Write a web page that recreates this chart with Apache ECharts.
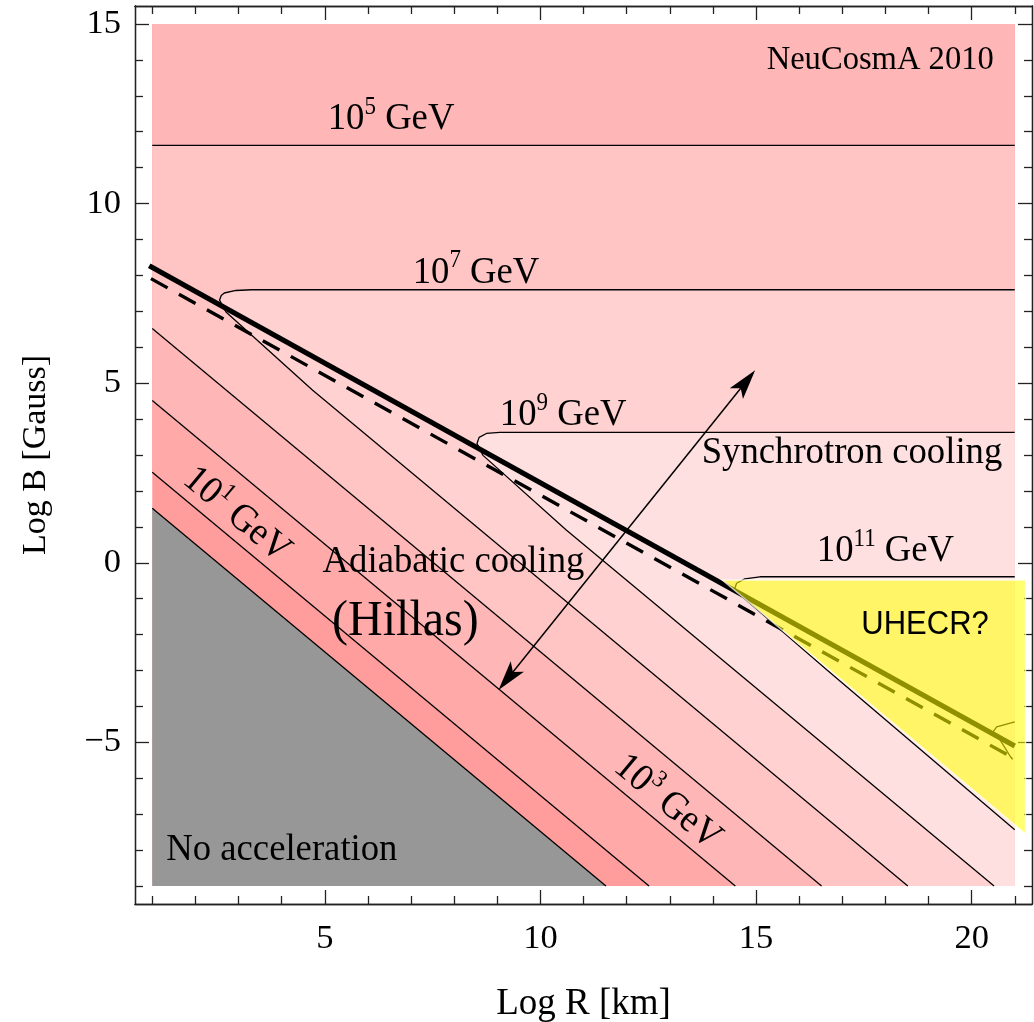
<!DOCTYPE html>
<html>
<head>
<meta charset="utf-8">
<script src="https://cdn.jsdelivr.net/npm/echarts@6/dist/echarts.min.js"></script>
<style>
  html, body { margin: 0; background: #fff; }
  #chart { width: 1034px; height: 1022px; }
</style>
</head>
<body>
<div id="chart"></div>
<script>
// maximal energy contours in the (log R, log B) plane
const grayEdge = [[1, 1.52], [11.52, -9]];
const e1Line = [[1, 2.52], [12.52, -9]];
const e3Line = [[1, 4.52], [14.52, -9]];
const e5Diag = [[1, 6.52], [16.52, -9]];
const e5Flat = [[1, 11.62], [21, 11.62]];
const e7Line = [[18.52, -9], [4.72, 4.8], [2.71, 6.98], [2.56, 7.31], [2.6, 7.44], [2.67, 7.51], [2.94, 7.58], [3.3, 7.6], [21, 7.6]];
const e9Line = [[20.52, -9], [10.6, 0.91], [8.67, 2.99], [8.53, 3.32], [8.58, 3.49], [8.75, 3.6], [9.06, 3.63], [21, 3.63]];
const e11Line = [[21, -7.43], [16.64, -2.98], [14.59, -0.85], [14.51, -0.71], [14.55, -0.57], [14.74, -0.45], [15.09, -0.39], [21, -0.39]];
const e13Line = [[21, -4.43], [20.58, -4.57], [20.5, -4.7], [20.66, -4.93], [20.9, -5.4], [20.95, -5.47]];
const coolingEdge = [[0.93, 8.27], [21, -5.1]];
const coolingEdgeDashed = [[0.97, 7.91], [21, -5.46]];
const uhecrZone = [[14.22, -0.48], [21.25, -0.48], [21.25, -7.55]];
const arrowTips = [[9.03, -3.54], [14.98, 5.36]];
const rangeR = [1, 21];
const rangeB = [-9, 15];

const xMajor = [5, 10, 15, 20];
const xMinor = [1, 2, 3, 4, 6, 7, 8, 9, 11, 12, 13, 14, 16, 17, 18, 19, 21];
const yMajor = [-5, 0, 5, 10, 15];
const yMinor = [-9, -8, -7, -6, -4, -3, -2, -1, 1, 2, 3, 4, 6, 7, 8, 9, 11, 12, 13, 14];

const notes = [
  { text: '{n|NeuCosmA 2010}', at: [17.88, 14.0], align: 'center' },
  { text: '{m|10}{s|5}{m| GeV}', at: [5.07, 12.36], align: 'left' },
  { text: '{m|10}{s|7}{m| GeV}', at: [7.04, 8.08], align: 'left' },
  { text: '{m|10}{s|9}{m| GeV}', at: [9.06, 4.11], align: 'left' },
  { text: '{m|10}{s|11}{m| GeV}', at: [16.41, 0.33], align: 'left' },
  { text: '{m|Synchrotron cooling}', at: [13.74, 3.05], align: 'left' },
  { text: '{m|Adiabatic cooling}', at: [4.95, 0.03], align: 'left' },
  { text: '{h|(Hillas)}', at: [5.17, -1.64], align: 'left' },
  { text: '{m|No acceleration}', at: [1.325, -8.0], align: 'left' },
  { text: '{u|UHECR?}', at: [18.92, -1.73], align: 'center' },
  { text: '{m|10}{s|1}{m| GeV}', at: [2.96, 1.33], align: 'center', slanted: true },
  { text: '{m|10}{s|3}{m| GeV}', at: [12.95, -6.67], align: 'center', slanted: true }
];

const serif = 'Liberation Serif';
const rich = {
  m: { fontFamily: serif, fontSize: 36.7, lineHeight: 46, fill: '#000' },
  s: { fontFamily: serif, fontSize: 23, lineHeight: 23, padding: [0, 0, 22, 0], fill: '#000' },
  n: { fontFamily: serif, fontSize: 32.6, lineHeight: 40, fill: '#000' },
  h: { fontFamily: serif, fontSize: 48, lineHeight: 54, fill: '#000' },
  u: { fontFamily: 'Liberation Sans', fontSize: 31, lineHeight: 34, fill: '#000' }
};

// regions with E above each contour, painted on top of each other
const [r0, r1] = rangeR;
const [b0, b1] = rangeB;
const zones = [
  [[r0, b0], [r1, b0], [r1, b1], [r0, b1]],
  e1Line.concat([[r1, b0], [r1, b1], [r0, b1]]),
  e3Line.concat([[r1, b0], [r1, b1], [r0, b1]]),
  e5Diag.concat([[r1, b0], [r1, e5Flat[1][1]], [r0, e5Flat[0][1]]]),
  e7Line.concat([[r1, b0]]),
  e9Line.concat([[r1, b0]]),
  e11Line.slice(),
  grayEdge.concat([[r0, b0]])
];
const zoneColors = ['#ff9c9c', '#ffa9a9', '#ffb6b6', '#ffc4c4', '#ffd1d1', '#ffe0e0', '#ffe8e8', '#979797'];

const frame = { color: '#222', width: 1.3 };
const tickText = { fontFamily: serif, fontSize: 34.5, color: '#000' };

function axis(kind, position, ticks, len, main) {
  const ax = {
    type: 'value',
    position: position,
    min: kind === 'x' ? 0.6 : -9.5,
    max: kind === 'x' ? 21.4 : 15.5,
    axisLine: { show: true, onZero: false, lineStyle: frame },
    axisTick: { show: true, inside: true, length: len, customValues: ticks, lineStyle: frame },
    axisLabel: { show: false },
    splitLine: { show: false }
  };
  if (main) {
    ax.axisLabel = Object.assign({
      show: true,
      customValues: kind === 'x' ? xMajor : yMajor,
      margin: kind === 'x' ? 17 : 14,
      formatter: v => (v < 0 ? '\u2212' + Math.abs(v) : String(v))
    }, tickText);
    ax.name = kind === 'x' ? 'Log R [km]' : 'Log B [Gauss]';
    ax.nameLocation = 'middle';
    ax.nameGap = kind === 'x' ? 82 : 82;
    ax.nameTextStyle = { fontFamily: serif, color: '#000', fontSize: kind === 'x' ? 37 : 34 };
  }
  return ax;
}

function contour(points, extra) {
  return Object.assign({
    type: 'line',
    data: points,
    symbol: 'none',
    silent: true,
    lineStyle: { color: '#000', width: 1.3 }
  }, extra || {});
}

const chart = echarts.init(document.getElementById('chart'));
chart.setOption({
  animation: false,
  grid: { left: 135, right: 2, top: 6, bottom: 118, outerBoundsMode: 'none', containLabel: false },
  xAxis: [
    axis('x', 'bottom', xMajor, 14, true),
    axis('x', 'bottom', xMinor, 8, false),
    axis('x', 'top', xMajor, 14, false),
    axis('x', 'top', xMinor, 8, false)
  ],
  yAxis: [
    axis('y', 'left', yMajor, 14, true),
    axis('y', 'left', yMinor, 8, false),
    axis('y', 'right', yMajor, 14, false),
    axis('y', 'right', yMinor, 8, false)
  ],
  series: [
    {
      type: 'custom',
      silent: true,
      data: zones.map((z, i) => [i, 0]),
      renderItem: (params, api) => ({
        type: 'polygon',
        shape: { points: zones[params.dataIndex].map(p => api.coord(p)) },
        style: { fill: zoneColors[params.dataIndex] }
      })
    },
    contour(grayEdge),
    contour(e1Line),
    contour(e3Line),
    contour(e5Diag),
    contour(e5Flat),
    contour(e7Line),
    contour(e9Line),
    contour(e11Line),
    contour(e13Line),
    contour(coolingEdge, { lineStyle: { color: '#000', width: 5.2 } }),
    contour(coolingEdgeDashed, { lineStyle: { color: '#000', width: 3.4, type: [19, 13], cap: 'butt' } }),
    {
      type: 'custom',
      silent: true,
      z: 3,
      data: [[0, 0]],
      renderItem: (params, api) => {
        const a = api.coord(arrowTips[0]);
        const b = api.coord(arrowTips[1]);
        const len = Math.hypot(b[0] - a[0], b[1] - a[1]);
        const ux = (b[0] - a[0]) / len, uy = (b[1] - a[1]) / len;
        const nx = -uy, ny = ux;
        const L = 30, W = 8.5, N = 23;
        const head = (t, s) => [
          [t[0], t[1]],
          [t[0] - s * L * ux + W * nx, t[1] - s * L * uy + W * ny],
          [t[0] - s * N * ux, t[1] - s * N * uy],
          [t[0] - s * L * ux - W * nx, t[1] - s * L * uy - W * ny]
        ];
        return {
          type: 'group',
          children: [
            { type: 'line', shape: { x1: a[0] + N * ux, y1: a[1] + N * uy, x2: b[0] - N * ux, y2: b[1] - N * uy }, style: { stroke: '#000', lineWidth: 1.5 } },
            { type: 'polygon', shape: { points: head(b, 1) }, style: { fill: '#000' } },
            { type: 'polygon', shape: { points: head(a, -1) }, style: { fill: '#000' } }
          ]
        };
      }
    },
    {
      type: 'custom',
      silent: true,
      z: 4,
      data: [[0, 0]],
      renderItem: (params, api) => ({
        type: 'polygon',
        shape: { points: uhecrZone.map(p => api.coord(p)) },
        style: { fill: 'rgba(255,255,0,0.56)', stroke: 'rgba(255,255,255,0.7)', lineWidth: 1.5 }
      })
    },
    {
      type: 'custom',
      silent: true,
      z: 5,
      data: notes.map(n => n.at),
      renderItem: (params, api) => {
        const n = notes[params.dataIndex];
        const p = api.coord(n.at);
        let rotation = 0;
        if (n.slanted) {
          const q0 = api.coord([0, 0]);
          const q1 = api.coord([1, -1]);
          rotation = -Math.atan2(q1[1] - q0[1], q1[0] - q0[0]);
        }
        return {
          type: 'text',
          x: p[0],
          y: p[1],
          rotation: rotation,
          scaleY: 1.06,
          style: { text: n.text, rich: rich, align: n.align, verticalAlign: 'middle' }
        };
      }
    }
  ]
});
</script>
</body>
</html>
